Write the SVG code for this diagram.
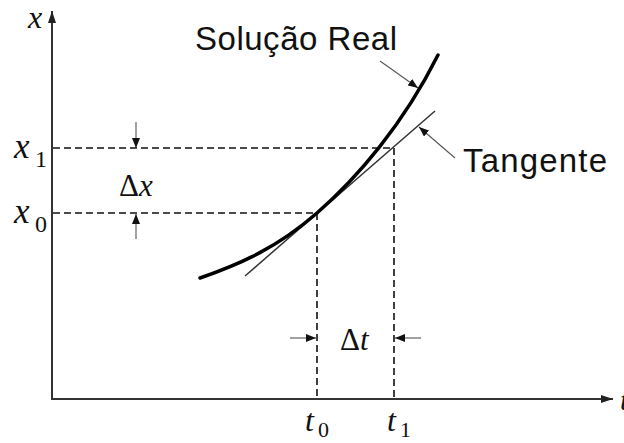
<svg xmlns="http://www.w3.org/2000/svg" width="624" height="443" viewBox="0 0 624 443">
<style>
.math{font-family:"Liberation Serif","Times New Roman",serif;font-style:italic;fill:#111}
.up{font-family:"Liberation Serif","Times New Roman",serif;font-style:normal;fill:#111}
.lbl{font-family:"Liberation Sans",Arial,sans-serif;fill:#111}
.axis{stroke:#333;stroke-width:2;fill:none}
.dash{stroke:#111;stroke-width:1.6;stroke-dasharray:7,4;fill:none}
.thin{stroke:#555;stroke-width:1.1;fill:none}
</style>
<defs>
<marker id="ah" viewBox="0 0 10 8" refX="10" refY="4" markerWidth="10" markerHeight="8" markerUnits="userSpaceOnUse" orient="auto">
<path d="M0,0 L10,4 L0,8 Z" fill="#111"/>
</marker>
<marker id="axh" viewBox="0 0 12 8" refX="12" refY="4" markerWidth="12" markerHeight="8" markerUnits="userSpaceOnUse" orient="auto">
<path d="M0,0 L12,4 L0,8 Z" fill="#222"/>
</marker>
</defs>
<rect width="624" height="443" fill="#fff"/>
<g id="axes">
<line class="axis" x1="52" y1="400" x2="52" y2="11" marker-end="url(#axh)"/>
<line class="axis" x1="52" y1="399" x2="613" y2="399" marker-end="url(#axh)"/>
<text class="math" x="28" y="28" font-size="32">x</text>
<text class="math" x="620" y="410" font-size="30">t</text>
</g>
<g id="connectors">
<line class="dash" x1="53" y1="148" x2="394" y2="148"/>
<line class="dash" x1="53" y1="213" x2="317" y2="213"/>
<line class="dash" x1="317" y1="213" x2="317" y2="398"/>
<line class="dash" x1="394" y1="148" x2="394" y2="398"/>
<line class="thin" x1="136" y1="122" x2="136" y2="148" marker-end="url(#ah)"/>
<line class="thin" x1="136" y1="239" x2="136" y2="214" marker-end="url(#ah)"/>
<line class="thin" x1="290" y1="338" x2="316" y2="338" marker-end="url(#ah)"/>
<line class="thin" x1="421" y1="338" x2="395" y2="338" marker-end="url(#ah)"/>
<line class="thin" x1="380" y1="61" x2="418" y2="88" marker-end="url(#ah)"/>
<line class="thin" x1="455" y1="158" x2="419" y2="127" marker-end="url(#ah)"/>
</g>
<g id="tangent">
<line x1="245" y1="276" x2="435" y2="111" stroke="#333" stroke-width="1.5"/>
</g>
<g id="real-solution">
<path d="M200,278 C240,264 277,248 317,213 C357,178 403,125 438,55" fill="none" stroke="#000" stroke-width="3.5" stroke-linecap="round"/>
</g>
<g id="labels">
<text class="lbl" x="195" y="50" font-size="33" textLength="202">Solução Real</text>
<text class="lbl" x="463" y="172" font-size="33" textLength="144">Tangente</text>
<text class="math" x="14" y="158" font-size="35">x</text>
<text class="up" x="35" y="167" font-size="24">1</text>
<text class="math" x="14" y="223" font-size="35">x</text>
<text class="up" x="35" y="232" font-size="24">0</text>
<text x="119" y="196" font-size="31"><tspan class="up">Δ</tspan><tspan class="math">x</tspan></text>
<text x="340" y="350" font-size="31"><tspan class="up">Δ</tspan><tspan class="math">t</tspan></text>
<text class="math" x="305" y="431" font-size="32">t</text>
<text class="up" x="318" y="437" font-size="22">0</text>
<text class="math" x="387" y="431" font-size="32">t</text>
<text class="up" x="400" y="437" font-size="22">1</text>
</g>
</svg>
